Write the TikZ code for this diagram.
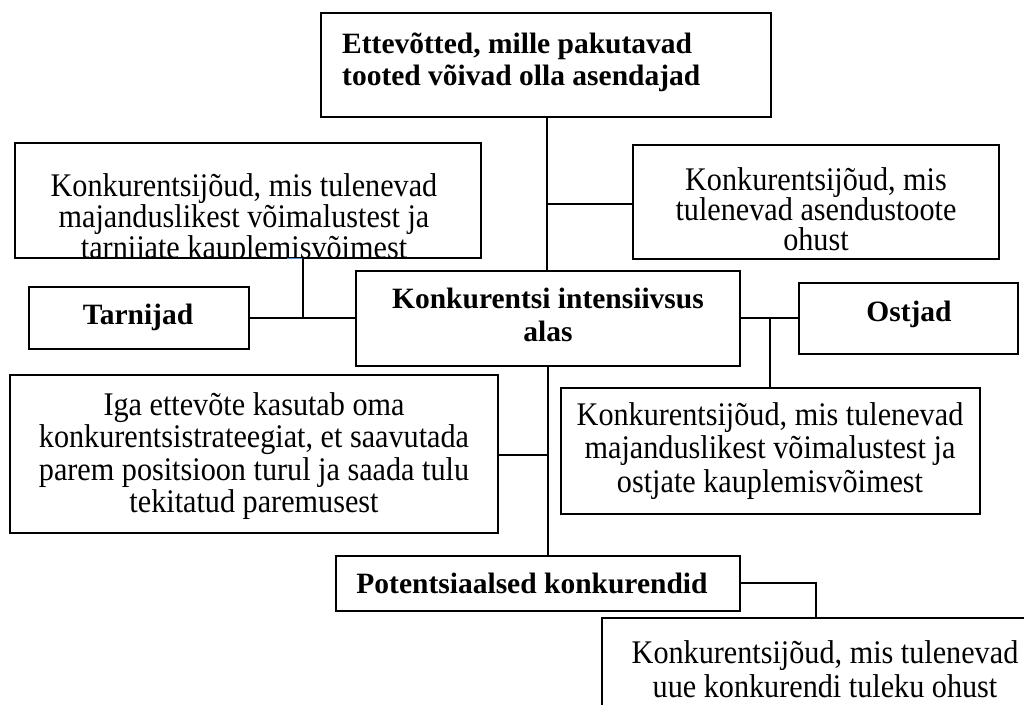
\documentclass[tikz,border=0pt]{standalone}
\usepackage{fontspec}
\setmainfont{Liberation Serif}
\newfontfamily\narrowserif[FakeStretch=0.915]{Liberation Serif}
\begin{document}
\begin{tikzpicture}[x=1pt,y=-1pt,
  box/.style={draw=black, line width=1.2pt, rectangle, inner sep=0pt},
  link/.style={draw=black, line width=1.7pt},
  txt/.style={inner sep=0pt, align=flush center, text width=480pt,
    font=\narrowserif\fontsize{33}{#1}\selectfont},
  txt/.default=29,
  bold/.style={inner sep=0pt, align=flush center, text width=480pt,
    font=\fontsize{29.5}{#1}\selectfont\bfseries},
  bold/.default=33
]
% page area
\clip (0,0) rectangle (1024,704);
\fill[white] (0,0) rectangle (1024,704);

% ---- boxes ----
\node[box, minimum width=450pt, minimum height=104pt] (subst) at (546,65) {};
\node[box, minimum width=466pt, minimum height=115pt] (supF) at (248,200.5) {};
\node[box, minimum width=366pt, minimum height=114pt] (subF) at (816,202) {};
\node[box, minimum width=220pt, minimum height=62pt] (supp) at (139,318) {};
\node[box, minimum width=384pt, minimum height=95pt] (core) at (548,318.5) {};
\node[box, minimum width=219pt, minimum height=71pt] (buy) at (908.5,318.5) {};
\node[box, minimum width=488pt, minimum height=158pt] (strat) at (254,454) {};
\node[box, minimum width=419pt, minimum height=126pt] (buyF) at (770.5,451) {};
\node[box, minimum width=404pt, minimum height=55pt] (pot) at (538,583.5) {};
\node[box, minimum width=448pt, minimum height=112pt] (newF) at (826,674) {};

% ---- texts ----
\node[bold=32, align=flush left, anchor=base west, text width=440pt] (substT) at (342,53)
  {Ettevõtted, mille pakutavad\\tooted võivad olla asendajad};
\begin{scope}
  \clip (15,143) rectangle (481,258);
  \node[txt=28.5, anchor=base] (supFT) at (244,196.5)
    {Konkurentsijõud, mis tulenevad\\majanduslikest võimalustest ja\\tarnijate kauplemisvõimest};
\end{scope}
\node[txt=29.5, anchor=base] (subFT) at (816,190)
  {Konkurentsijõud, mis\\tulenevad asendustoote\\ohust};
\node[bold, anchor=base] (suppT) at (138,324) {Tarnijad};
\node[bold=33.5, anchor=base] (coreT) at (548,308) {Konkurentsi intensiivsus\\alas};
\node[bold, anchor=base] (buyT) at (909,321) {Ostjad};
\node[txt=32.5, anchor=base] (stratT) at (254,415)
  {Iga ettevõte kasutab oma\\konkurentsistrateegiat, et saavutada\\parem positsioon turul ja saada tulu\\tekitatud paremusest};
\node[txt=33.5, anchor=base] (buyFT) at (770,425)
  {Konkurentsijõud, mis tulenevad\\majanduslikest võimalustest ja\\ostjate kauplemisvõimest};
\node[bold, anchor=base] (potT) at (532,593) {Potentsiaalsed konkurendid};
\node[txt=34, anchor=base] (newFT) at (825,663)
  {Konkurentsijõud, mis tulenevad\\uue konkurendi tuleku ohust};

% ---- junction points ----
\coordinate (jSubF) at (547,204);
\coordinate (jSup) at (303,318);
\coordinate (jBuy) at (770,318);
\coordinate (jStrat) at (548,455);
\coordinate (jPot) at (816,583);

% ---- connectors ----
\draw[link] (547,0 |- subst.south) -- (547,0 |- core.north);
\draw[link] (jSubF) -- (subF.west |- jSubF);
\draw[link] (jSup |- supF.south) -- (jSup);
\draw[link] (supp.east |- jSup) -- (core.west |- jSup);
\draw[link] (core.east |- jBuy) -- (buy.west |- jBuy);
\draw[link] (jBuy) -- (jBuy |- buyF.north);
\draw[link] (core.south) -- (core.south |- pot.north);
\draw[link] (jStrat) -- (strat.east |- jStrat);
\draw[link] (pot.east |- jPot) -- (jPot) -- (jPot |- newF.north);

% small coloured mark on the lower edge of the supplier box
\draw[line width=1.2pt, color={rgb,255:red,91;green,143;blue,208}]
  (287,0 |- supF.south) -- (302,0 |- supF.south);
\end{tikzpicture}
\end{document}
